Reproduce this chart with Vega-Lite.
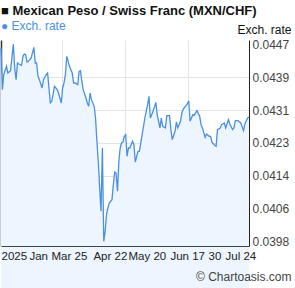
{
  "$schema": "https://vega.github.io/schema/vega-lite/v6.json",
  "width": 248,
  "height": 206,
  "autosize": {"type": "none"},
  "padding": {"left": 1, "top": 40, "right": 46, "bottom": 42},
  "background": "white",
  "config": {"view": {"stroke": null}, "font": "Liberation Sans"},
  "title": {
    "text": "■ Mexican Peso / Swiss Franc (MXN/CHF)",
    "subtitle": "● Exch. rate",
    "anchor": "start",
    "frame": "group",
    "font": "Liberation Sans",
    "fontSize": 13,
    "fontWeight": "bold",
    "color": "#111111",
    "subtitleFont": "Liberation Sans",
    "subtitleFontSize": 12,
    "subtitleColor": "#4a90e2",
    "subtitlePadding": 3,
    "offset": -9
  },
  "data": {
    "values": [
      {"date": "2025-01-24", "rate": 0.04462},
      {"date": "2025-01-25", "rate": 0.043577},
      {"date": "2025-01-26", "rate": 0.04395},
      {"date": "2025-01-28", "rate": 0.044157},
      {"date": "2025-01-29", "rate": 0.043992},
      {"date": "2025-01-31", "rate": 0.04405},
      {"date": "2025-02-02", "rate": 0.044713},
      {"date": "2025-02-03", "rate": 0.044116},
      {"date": "2025-02-04", "rate": 0.043826},
      {"date": "2025-02-05", "rate": 0.04424},
      {"date": "2025-02-06", "rate": 0.044215},
      {"date": "2025-02-08", "rate": 0.044182},
      {"date": "2025-02-09", "rate": 0.044406},
      {"date": "2025-02-10", "rate": 0.044464},
      {"date": "2025-02-11", "rate": 0.044448},
      {"date": "2025-02-12", "rate": 0.044265},
      {"date": "2025-02-13", "rate": 0.044282},
      {"date": "2025-02-15", "rate": 0.044365},
      {"date": "2025-02-17", "rate": 0.04463},
      {"date": "2025-02-18", "rate": 0.04424},
      {"date": "2025-02-19", "rate": 0.04424},
      {"date": "2025-02-20", "rate": 0.043909},
      {"date": "2025-02-21", "rate": 0.043826},
      {"date": "2025-02-23", "rate": 0.043619},
      {"date": "2025-02-24", "rate": 0.043826},
      {"date": "2025-02-26", "rate": 0.04395},
      {"date": "2025-02-27", "rate": 0.043992},
      {"date": "2025-02-28", "rate": 0.043619},
      {"date": "2025-03-01", "rate": 0.043246},
      {"date": "2025-03-02", "rate": 0.043287},
      {"date": "2025-03-03", "rate": 0.043453},
      {"date": "2025-03-04", "rate": 0.04366},
      {"date": "2025-03-06", "rate": 0.043577},
      {"date": "2025-03-07", "rate": 0.043494},
      {"date": "2025-03-09", "rate": 0.043246},
      {"date": "2025-03-10", "rate": 0.043619},
      {"date": "2025-03-11", "rate": 0.043743},
      {"date": "2025-03-12", "rate": 0.04395},
      {"date": "2025-03-13", "rate": 0.044406},
      {"date": "2025-03-15", "rate": 0.044157},
      {"date": "2025-03-16", "rate": 0.044074},
      {"date": "2025-03-17", "rate": 0.043992},
      {"date": "2025-03-18", "rate": 0.043743},
      {"date": "2025-03-19", "rate": 0.043743},
      {"date": "2025-03-21", "rate": 0.043701},
      {"date": "2025-03-22", "rate": 0.044033},
      {"date": "2025-03-23", "rate": 0.04405},
      {"date": "2025-03-24", "rate": 0.043784},
      {"date": "2025-03-25", "rate": 0.043577},
      {"date": "2025-03-27", "rate": 0.04337},
      {"date": "2025-03-28", "rate": 0.043246},
      {"date": "2025-03-29", "rate": 0.043163},
      {"date": "2025-03-30", "rate": 0.043494},
      {"date": "2025-03-31", "rate": 0.043328},
      {"date": "2025-04-02", "rate": 0.043163},
      {"date": "2025-04-03", "rate": 0.042872},
      {"date": "2025-04-04", "rate": 0.042292},
      {"date": "2025-04-05", "rate": 0.041795},
      {"date": "2025-04-06", "rate": 0.041132},
      {"date": "2025-04-07", "rate": 0.040551},
      {"date": "2025-04-08", "rate": 0.042126},
      {"date": "2025-04-09", "rate": 0.039805},
      {"date": "2025-04-10", "rate": 0.040054},
      {"date": "2025-04-11", "rate": 0.040468},
      {"date": "2025-04-12", "rate": 0.040634},
      {"date": "2025-04-13", "rate": 0.040758},
      {"date": "2025-04-15", "rate": 0.040841},
      {"date": "2025-04-16", "rate": 0.041214},
      {"date": "2025-04-17", "rate": 0.041529},
      {"date": "2025-04-18", "rate": 0.041504},
      {"date": "2025-04-19", "rate": 0.041049},
      {"date": "2025-04-20", "rate": 0.041795},
      {"date": "2025-04-21", "rate": 0.042126},
      {"date": "2025-04-22", "rate": 0.042251},
      {"date": "2025-04-23", "rate": 0.042275},
      {"date": "2025-04-24", "rate": 0.042416},
      {"date": "2025-04-25", "rate": 0.042458},
      {"date": "2025-04-26", "rate": 0.041919},
      {"date": "2025-04-27", "rate": 0.042126},
      {"date": "2025-04-28", "rate": 0.042126},
      {"date": "2025-04-30", "rate": 0.042292},
      {"date": "2025-05-01", "rate": 0.042209},
      {"date": "2025-05-02", "rate": 0.041778},
      {"date": "2025-05-04", "rate": 0.042043},
      {"date": "2025-05-05", "rate": 0.042043},
      {"date": "2025-05-07", "rate": 0.042458},
      {"date": "2025-05-08", "rate": 0.042665},
      {"date": "2025-05-09", "rate": 0.042872},
      {"date": "2025-05-11", "rate": 0.043204},
      {"date": "2025-05-12", "rate": 0.043411},
      {"date": "2025-05-13", "rate": 0.042872},
      {"date": "2025-05-15", "rate": 0.043038},
      {"date": "2025-05-17", "rate": 0.043262},
      {"date": "2025-05-18", "rate": 0.042955},
      {"date": "2025-05-20", "rate": 0.042624},
      {"date": "2025-05-21", "rate": 0.042872},
      {"date": "2025-05-22", "rate": 0.042665},
      {"date": "2025-05-24", "rate": 0.042624},
      {"date": "2025-05-25", "rate": 0.04293},
      {"date": "2025-05-27", "rate": 0.04293},
      {"date": "2025-05-28", "rate": 0.042582},
      {"date": "2025-05-29", "rate": 0.042334},
      {"date": "2025-05-31", "rate": 0.042541},
      {"date": "2025-06-01", "rate": 0.042773},
      {"date": "2025-06-02", "rate": 0.042624},
      {"date": "2025-06-04", "rate": 0.04279},
      {"date": "2025-06-05", "rate": 0.042997},
      {"date": "2025-06-06", "rate": 0.043096},
      {"date": "2025-06-07", "rate": 0.043138},
      {"date": "2025-06-09", "rate": 0.043221},
      {"date": "2025-06-10", "rate": 0.043304},
      {"date": "2025-06-11", "rate": 0.04279},
      {"date": "2025-06-13", "rate": 0.042955},
      {"date": "2025-06-14", "rate": 0.042939},
      {"date": "2025-06-16", "rate": 0.043055},
      {"date": "2025-06-18", "rate": 0.042914},
      {"date": "2025-06-19", "rate": 0.042707},
      {"date": "2025-06-20", "rate": 0.042624},
      {"date": "2025-06-22", "rate": 0.042392},
      {"date": "2025-06-23", "rate": 0.042474},
      {"date": "2025-06-25", "rate": 0.042416},
      {"date": "2025-06-26", "rate": 0.042416},
      {"date": "2025-06-27", "rate": 0.042267},
      {"date": "2025-06-29", "rate": 0.042193},
      {"date": "2025-06-30", "rate": 0.042168},
      {"date": "2025-07-01", "rate": 0.042582},
      {"date": "2025-07-03", "rate": 0.042624},
      {"date": "2025-07-04", "rate": 0.042707},
      {"date": "2025-07-06", "rate": 0.042748},
      {"date": "2025-07-07", "rate": 0.042624},
      {"date": "2025-07-09", "rate": 0.042831},
      {"date": "2025-07-10", "rate": 0.042723},
      {"date": "2025-07-12", "rate": 0.042582},
      {"date": "2025-07-13", "rate": 0.042624},
      {"date": "2025-07-14", "rate": 0.042806},
      {"date": "2025-07-16", "rate": 0.042806},
      {"date": "2025-07-18", "rate": 0.042748},
      {"date": "2025-07-20", "rate": 0.042557},
      {"date": "2025-07-21", "rate": 0.042723},
      {"date": "2025-07-23", "rate": 0.042872},
      {"date": "2025-07-24", "rate": 0.042897}
    ]
  },
  "resolve": {"axis": {"x": "independent", "y": "independent"}},
  "layer": [
    {
      "mark": {"type": "area", "fill": "#edf5fe", "stroke": null, "opacity": 1},
      "encoding": {
        "x": {
          "field": "date",
          "type": "temporal",
          "scale": {
            "type": "utc",
            "domain": [
              {"year": 2025, "month": 1, "date": 24, "utc": true},
              {"year": 2025, "month": 7, "date": 24, "utc": true}
            ]
          },
          "axis": {
            "orient": "bottom",
            "zindex": 1,
            "grid": false,
            "ticks": false,
            "domain": true,
            "domainColor": "#444444",
            "domainWidth": 1,
            "values": [
              {"year": 2025, "month": 1, "date": 24, "hours": 0, "utc": true},
              {"year": 2025, "month": 2, "date": 13, "hours": 10, "utc": true},
              {"year": 2025, "month": 3, "date": 1, "hours": 12, "utc": true},
              {"year": 2025, "month": 4, "date": 1, "hours": 2, "utc": true},
              {"year": 2025, "month": 4, "date": 26, "hours": 17, "utc": true},
              {"year": 2025, "month": 5, "date": 27, "hours": 7, "utc": true},
              {"year": 2025, "month": 6, "date": 24, "hours": 2, "utc": true},
              {"year": 2025, "month": 7, "date": 6, "hours": 12, "utc": true}
            ],
            "labelExpr": "utcFormat(datum.value, '%m%d') == '0124' ? '2025' : utcFormat(datum.value, '%m%d') == '0213' ? 'Jan' : utcFormat(datum.value, '%m%d') == '0301' ? 'Mar 25' : utcFormat(datum.value, '%m%d') == '0401' ? 'Apr 22' : utcFormat(datum.value, '%m%d') == '0426' ? 'May 20' : utcFormat(datum.value, '%m%d') == '0527' ? 'Jun 17' : utcFormat(datum.value, '%m%d') == '0624' ? '30' : 'Jul 24'",
            "labelAlign": "left",
            "labelDx": -1,
            "labelOverlap": false,
            "labelFlush": false,
            "labelBound": false,
            "labelFont": "Liberation Sans",
            "labelFontSize": 11.5,
            "labelColor": "#222222",
            "labelPadding": 4,
            "title": "© Chartoasis.com",
            "titleFont": "Liberation Sans",
            "titleFontSize": 12,
            "titleFontWeight": "normal",
            "titleColor": "#444444",
            "titleAnchor": "end",
            "titleAlign": "right",
            "titleBaseline": "alphabetic",
            "titleX": 290,
            "titleY": 34
          }
        },
        "y": {
          "field": "rate",
          "type": "quantitative",
          "scale": {"domain": [0.039688, 0.044812], "zero": false, "nice": false},
          "axis": {
            "orient": "right",
            "zindex": 1,
            "grid": false,
            "ticks": false,
            "domain": true,
            "domainColor": "#222222",
            "domainWidth": 1,
            "values": [0.0398, 0.0406167, 0.0414333, 0.042251, 0.0430667, 0.0438833, 0.0447],
            "format": ".4f",
            "labelFont": "Liberation Sans",
            "labelFontSize": 12,
            "labelColor": "#444444",
            "labelPadding": 3,
            "title": "Exch. rate",
            "titleFont": "Liberation Sans",
            "titleFontSize": 12,
            "titleFontWeight": "normal",
            "titleColor": "#111111",
            "titleAngle": 0,
            "titleAlign": "right",
            "titleBaseline": "alphabetic",
            "titleX": 42,
            "titleY": -7
          }
        }
      }
    },
    {
      "mark": {"type": "line", "color": "#4a90e2", "strokeWidth": 1.3},
      "encoding": {
        "x": {
          "field": "date",
          "type": "temporal",
          "axis": {
            "orient": "top",
            "zindex": 0,
            "grid": true,
            "gridColor": "#e4e4e4",
            "gridWidth": 1,
            "ticks": false,
            "labels": false,
            "domain": false,
            "title": null,
            "values": [
              {"year": 2025, "month": 3, "date": 9, "hours": 12, "utc": true},
              {"year": 2025, "month": 4, "date": 24, "hours": 12, "utc": true},
              {"year": 2025, "month": 6, "date": 9, "hours": 12, "utc": true}
            ]
          }
        },
        "y": {
          "field": "rate",
          "type": "quantitative",
          "axis": {
            "orient": "left",
            "zindex": 0,
            "grid": true,
            "gridColor": "#e4e4e4",
            "gridWidth": 1,
            "ticks": false,
            "labels": false,
            "domain": true,
            "domainColor": "#333333",
            "domainWidth": 1.5,
            "title": null,
            "values": [0.0406167, 0.0414333, 0.042251, 0.0430667, 0.0438833]
          }
        }
      }
    }
  ]
}
